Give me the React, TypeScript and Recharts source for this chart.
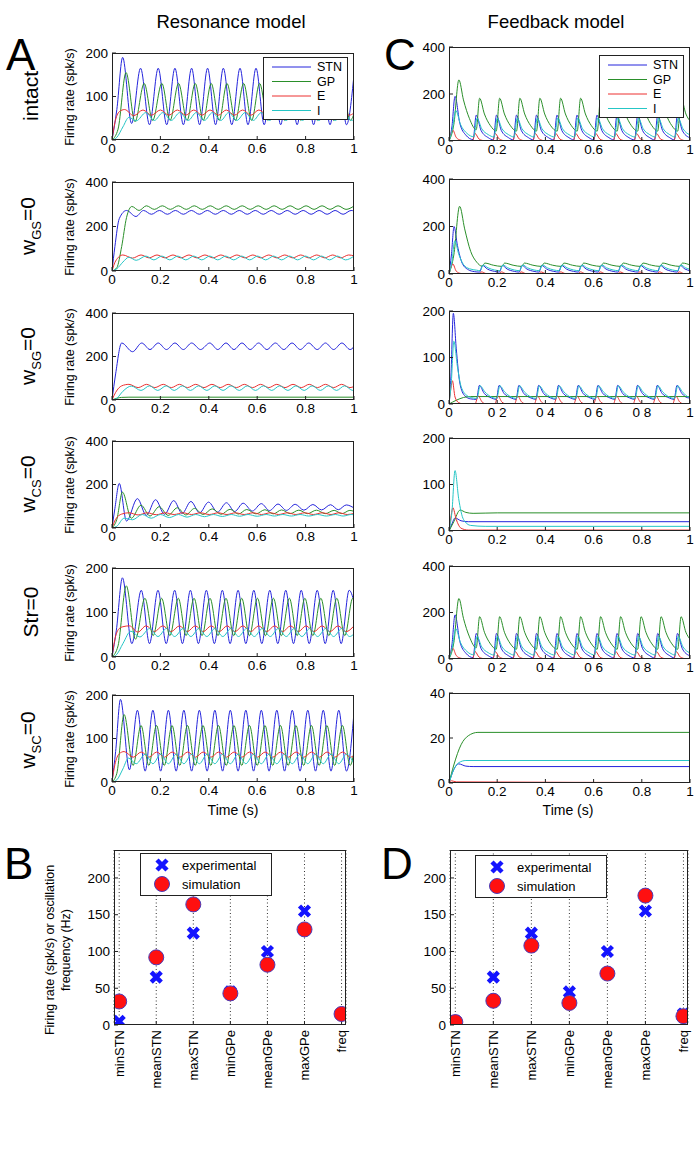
import { CartesianGrid, Line, LineChart, Scatter, ScatterChart, XAxis, YAxis } from "recharts";

type Pt = [number, number];

// ---- traces (A) ----
const A1_STN: Pt[] = [[0,0],[0.02,70],[0.044,190],[0.081,38],[0.118,165],[0.155,35],[0.191,165],[0.226,35],[0.26,165],[0.295,35],[0.329,165],[0.362,35],[0.395,165],[0.428,35],[0.46,165],[0.495,35],[0.529,165],[0.562,35],[0.595,165],[0.629,35],[0.663,165],[0.697,35],[0.731,165],[0.765,35],[0.799,165],[0.833,35],[0.867,165],[0.901,35],[0.935,165],[0.969,35],[1,150]];
const A1_GP: Pt[] = [[0,0],[0.025,25],[0.058,155],[0.095,42],[0.133,130],[0.168,45],[0.206,130],[0.24,45],[0.275,130],[0.31,45],[0.344,130],[0.377,45],[0.41,130],[0.443,45],[0.475,130],[0.51,45],[0.544,130],[0.577,45],[0.61,130],[0.644,45],[0.678,130],[0.712,45],[0.746,130],[0.78,45],[0.814,130],[0.848,45],[0.882,130],[0.916,45],[0.95,130],[0.984,45],[1,60]];
const A1_E: Pt[] = [[0,0],[0.012,40],[0.03,65],[0.052,70],[0.09,56],[0.128,69],[0.163,57],[0.2,69],[0.235,57],[0.27,69],[0.305,57],[0.338,69],[0.372,57],[0.405,69],[0.44,57],[0.472,69],[0.506,57],[0.54,69],[0.574,57],[0.607,69],[0.641,57],[0.675,69],[0.709,57],[0.743,69],[0.777,57],[0.81,69],[0.845,57],[0.878,69],[0.912,57],[0.946,69],[0.98,57],[1,62]];
const A1_I: Pt[] = [[0,0],[0.02,6],[0.045,30],[0.07,52],[0.1,44],[0.14,63],[0.175,45],[0.21,63],[0.245,45],[0.28,63],[0.315,45],[0.348,63],[0.382,45],[0.415,63],[0.45,45],[0.482,63],[0.516,45],[0.55,63],[0.584,45],[0.617,63],[0.651,45],[0.685,63],[0.719,45],[0.753,63],[0.787,45],[0.82,63],[0.855,45],[0.888,63],[0.922,45],[0.956,63],[0.99,45],[1,47]];

const A2_STN: Pt[] = [[0,0],[0.012,110],[0.03,235],[0.06,272],[0.099,245],[0.13,272],[0.163,255],[0.196,272],[0.229,255],[0.262,272],[0.295,255],[0.328,272],[0.361,255],[0.394,272],[0.427,255],[0.46,272],[0.493,255],[0.526,272],[0.559,255],[0.592,272],[0.625,255],[0.658,272],[0.691,255],[0.724,272],[0.757,255],[0.79,272],[0.823,255],[0.856,272],[0.889,255],[0.922,272],[0.955,255],[0.988,272],[1,270]];
const A2_GP: Pt[] = [[0,0],[0.02,15],[0.04,110],[0.06,240],[0.082,290],[0.112,272],[0.142,293],[0.175,277],[0.208,293],[0.241,277],[0.274,293],[0.307,277],[0.34,293],[0.373,277],[0.406,293],[0.439,277],[0.472,293],[0.505,277],[0.538,293],[0.571,277],[0.604,293],[0.637,277],[0.67,293],[0.703,277],[0.736,293],[0.769,277],[0.802,293],[0.835,277],[0.868,293],[0.901,277],[0.934,293],[0.967,277],[1,292]];
const A2_E: Pt[] = [[0,0],[0.015,45],[0.045,72],[0.085,58],[0.12,72],[0.153,59],[0.186,72],[0.219,59],[0.252,72],[0.285,59],[0.318,72],[0.351,59],[0.384,72],[0.417,59],[0.45,72],[0.483,59],[0.516,72],[0.549,59],[0.582,72],[0.615,59],[0.648,72],[0.681,59],[0.714,72],[0.747,59],[0.78,72],[0.813,59],[0.846,72],[0.879,59],[0.912,72],[0.945,59],[0.978,72],[1,68]];
const A2_I: Pt[] = [[0,0],[0.02,10],[0.045,40],[0.07,62],[0.1,48],[0.14,67],[0.173,50],[0.206,67],[0.239,50],[0.272,67],[0.305,50],[0.338,67],[0.371,50],[0.404,67],[0.437,50],[0.47,67],[0.503,50],[0.536,67],[0.569,50],[0.602,67],[0.635,50],[0.668,67],[0.701,50],[0.734,67],[0.767,50],[0.8,67],[0.833,50],[0.866,67],[0.899,50],[0.932,67],[0.965,50],[1,67]];

const A3_STN: Pt[] = [[0,0],[0.015,120],[0.04,262],[0.085,222],[0.123,262],[0.157,232],[0.191,262],[0.225,232],[0.26,262],[0.295,232],[0.329,262],[0.366,232],[0.404,262],[0.437,232],[0.471,262],[0.504,232],[0.537,262],[0.571,232],[0.606,262],[0.64,232],[0.675,262],[0.71,232],[0.744,262],[0.778,232],[0.813,262],[0.848,232],[0.882,262],[0.916,232],[0.95,262],[0.984,232],[1,245]];
const A3_GP: Pt[] = [[0,0],[0.02,8],[0.04,12],[0.07,13],[1,13]];
const A3_E: Pt[] = [[0,0],[0.015,35],[0.04,65],[0.07,72],[0.108,57],[0.143,72],[0.177,57],[0.212,72],[0.245,57],[0.279,72],[0.312,57],[0.346,72],[0.38,57],[0.413,72],[0.447,57],[0.48,72],[0.514,57],[0.547,72],[0.581,57],[0.614,72],[0.648,57],[0.681,72],[0.715,57],[0.748,72],[0.782,57],[0.815,72],[0.849,57],[0.882,72],[0.916,57],[0.949,72],[0.983,57],[1,62]];
const A3_I: Pt[] = [[0,0],[0.02,8],[0.045,40],[0.08,64],[0.12,44],[0.155,65],[0.189,44],[0.224,65],[0.257,44],[0.291,65],[0.324,44],[0.358,65],[0.392,44],[0.425,65],[0.459,44],[0.492,65],[0.526,44],[0.559,65],[0.593,44],[0.626,65],[0.66,44],[0.693,65],[0.727,44],[0.76,65],[0.794,44],[0.827,65],[0.861,44],[0.894,65],[0.928,44],[0.961,65],[0.995,44],[1,45]];

const A4_STN: Pt[] = [[0,0],[0.012,90],[0.03,205],[0.06,32],[0.105,135],[0.142,58],[0.18,130],[0.217,63],[0.255,126],[0.29,67],[0.326,122],[0.362,70],[0.399,119],[0.436,73],[0.473,116],[0.507,76],[0.542,114],[0.58,78],[0.617,112],[0.651,80],[0.686,110],[0.721,81],[0.757,109],[0.793,82],[0.83,108],[0.866,83],[0.903,107],[0.935,84],[0.968,106],[1,92]];
const A4_GP: Pt[] = [[0,0],[0.02,40],[0.043,165],[0.08,45],[0.12,105],[0.157,55],[0.195,98],[0.232,58],[0.27,93],[0.305,60],[0.341,90],[0.377,62],[0.414,88],[0.451,63],[0.488,86],[0.522,64],[0.557,85],[0.595,65],[0.632,84],[0.666,65],[0.701,83],[0.736,66],[0.772,82],[0.808,66],[0.845,82],[0.881,66],[0.918,81],[0.95,66],[0.983,81],[1,76]];
const A4_E: Pt[] = [[0,0],[0.015,40],[0.04,64],[0.07,70],[0.108,60],[0.145,70],[0.183,61],[0.22,70],[0.257,62],[0.293,70],[0.329,62],[0.365,70],[0.402,62],[0.439,70],[0.475,62],[0.51,70],[0.546,62],[0.583,70],[0.618,62],[0.654,70],[0.689,62],[0.724,70],[0.76,62],[0.796,70],[0.832,62],[0.869,70],[0.905,62],[0.938,70],[0.972,62],[1,67]];
const A4_I: Pt[] = [[0,0],[0.02,8],[0.05,45],[0.085,38],[0.125,62],[0.162,45],[0.2,62],[0.237,48],[0.275,62],[0.31,50],[0.346,62],[0.382,52],[0.419,62],[0.456,53],[0.493,62],[0.527,54],[0.562,62],[0.6,54],[0.637,62],[0.671,55],[0.706,62],[0.741,55],[0.777,62],[0.813,55],[0.85,62],[0.886,55],[0.923,62],[0.955,55],[0.988,62],[1,61]];

const A5_STN: Pt[] = [[0,0],[0.018,60],[0.043,178],[0.082,30],[0.121,150],[0.155,30],[0.19,150],[0.224,30],[0.259,150],[0.291,30],[0.324,150],[0.357,30],[0.39,150],[0.423,30],[0.456,150],[0.488,30],[0.521,150],[0.553,30],[0.586,150],[0.619,30],[0.652,150],[0.685,30],[0.718,150],[0.75,30],[0.782,150],[0.815,30],[0.848,150],[0.881,30],[0.914,150],[0.947,30],[0.98,150],[1,125]];
const A5_GP: Pt[] = [[0,0],[0.025,25],[0.059,160],[0.097,40],[0.136,132],[0.17,48],[0.205,132],[0.239,48],[0.274,132],[0.306,48],[0.339,132],[0.372,48],[0.405,132],[0.438,48],[0.471,132],[0.503,48],[0.536,132],[0.568,48],[0.601,132],[0.634,48],[0.667,132],[0.7,48],[0.733,132],[0.765,48],[0.797,132],[0.83,48],[0.863,132],[0.896,48],[0.929,132],[0.962,48],[0.995,132],[1,128]];
const A5_E: Pt[] = [[0,0],[0.012,40],[0.03,64],[0.045,68],[0.072,70],[0.107,56],[0.141,70],[0.175,57],[0.21,70],[0.244,57],[0.279,70],[0.311,57],[0.344,70],[0.377,57],[0.41,70],[0.443,57],[0.476,70],[0.508,57],[0.541,70],[0.573,57],[0.606,70],[0.639,57],[0.672,70],[0.705,57],[0.738,70],[0.77,57],[0.802,70],[0.835,57],[0.868,70],[0.901,57],[0.934,70],[0.967,57],[1,70]];
const A5_I: Pt[] = [[0,0],[0.02,6],[0.045,30],[0.078,58],[0.115,45],[0.156,64],[0.19,46],[0.225,64],[0.259,46],[0.294,64],[0.326,46],[0.359,64],[0.392,46],[0.425,64],[0.458,46],[0.491,64],[0.523,46],[0.556,64],[0.588,46],[0.621,64],[0.654,46],[0.687,64],[0.72,46],[0.753,64],[0.785,46],[0.817,64],[0.85,46],[0.883,64],[0.916,46],[0.949,64],[0.982,46],[1,52]];

const A6_STN: Pt[] = [[0,0],[0.015,70],[0.035,190],[0.072,28],[0.105,165],[0.137,25],[0.169,165],[0.201,25],[0.233,165],[0.265,25],[0.297,165],[0.329,25],[0.361,165],[0.393,25],[0.425,165],[0.457,25],[0.489,165],[0.521,25],[0.553,165],[0.585,25],[0.617,165],[0.649,25],[0.681,165],[0.713,25],[0.745,165],[0.777,25],[0.809,165],[0.841,25],[0.873,165],[0.905,25],[0.937,165],[0.969,25],[1,160]];
const A6_GP: Pt[] = [[0,0],[0.02,20],[0.05,155],[0.087,38],[0.12,130],[0.152,38],[0.184,130],[0.216,38],[0.248,130],[0.28,38],[0.312,130],[0.344,38],[0.376,130],[0.408,38],[0.44,130],[0.472,38],[0.504,130],[0.536,38],[0.568,130],[0.6,38],[0.632,130],[0.664,38],[0.696,130],[0.728,38],[0.76,130],[0.792,38],[0.824,130],[0.856,38],[0.888,130],[0.92,38],[0.952,130],[0.984,38],[1,70]];
const A6_E: Pt[] = [[0,0],[0.012,40],[0.03,65],[0.05,70],[0.088,57],[0.121,69],[0.153,57],[0.185,69],[0.217,57],[0.249,69],[0.281,57],[0.313,69],[0.345,57],[0.377,69],[0.409,57],[0.441,69],[0.473,57],[0.505,69],[0.537,57],[0.569,69],[0.601,57],[0.633,69],[0.665,57],[0.697,69],[0.729,57],[0.761,69],[0.793,57],[0.825,69],[0.857,57],[0.889,69],[0.921,57],[0.953,69],[0.985,57],[1,60]];
const A6_I: Pt[] = [[0,0],[0.02,5],[0.045,30],[0.068,55],[0.1,42],[0.137,64],[0.169,42],[0.201,64],[0.233,42],[0.265,64],[0.297,42],[0.329,64],[0.361,42],[0.393,64],[0.425,42],[0.457,64],[0.489,42],[0.521,64],[0.553,42],[0.585,64],[0.617,42],[0.649,64],[0.681,42],[0.713,64],[0.745,42],[0.777,64],[0.809,42],[0.841,64],[0.873,42],[0.905,64],[0.937,42],[0.969,64],[1,42]];

// ---- traces (C) ----
const C1_STN: Pt[] = [[0,0],[0.012,60],[0.025,190],[0.045,75],[0.07,25],[0.1,6],[0.113,110],[0.133,45],[0.163,14],[0.184,5],[0.197,110],[0.217,45],[0.247,14],[0.267,5],[0.28,110],[0.3,45],[0.33,14],[0.35,5],[0.363,110],[0.383,45],[0.413,14],[0.435,5],[0.448,110],[0.468,45],[0.498,14],[0.518,5],[0.531,110],[0.551,45],[0.581,14],[0.601,5],[0.614,110],[0.634,45],[0.664,14],[0.684,5],[0.697,110],[0.717,45],[0.747,14],[0.77,5],[0.783,110],[0.803,45],[0.833,14],[0.853,5],[0.866,110],[0.886,45],[0.916,14],[0.935,5],[0.948,110],[0.968,45],[0.998,14],[1,13]];
const C1_GP: Pt[] = [[0,0],[0.02,70],[0.041,260],[0.06,175],[0.085,95],[0.113,48],[0.127,182],[0.147,115],[0.172,65],[0.196,42],[0.21,182],[0.23,115],[0.255,65],[0.28,42],[0.294,182],[0.314,115],[0.339,65],[0.363,42],[0.377,182],[0.397,115],[0.422,65],[0.449,42],[0.463,182],[0.483,115],[0.508,65],[0.532,42],[0.546,182],[0.566,115],[0.591,65],[0.615,42],[0.629,182],[0.649,115],[0.674,65],[0.698,42],[0.712,182],[0.732,115],[0.757,65],[0.783,42],[0.797,182],[0.817,115],[0.842,65],[0.866,42],[0.88,182],[0.9,115],[0.925,65],[0.949,42],[0.963,182],[0.983,115],[1,85]];
const C1_E: Pt[] = [[0,0],[0.008,30],[0.016,46],[0.03,15],[0.05,3],[0.08,0],[0.097,0],[0.108,32],[0.125,8],[0.148,1],[0.181,0],[0.192,32],[0.209,8],[0.232,1],[0.264,0],[0.275,32],[0.292,8],[0.315,1],[0.347,0],[0.358,32],[0.375,8],[0.398,1],[0.432,0],[0.443,32],[0.46,8],[0.483,1],[0.515,0],[0.526,32],[0.543,8],[0.566,1],[0.598,0],[0.609,32],[0.626,8],[0.649,1],[0.681,0],[0.692,32],[0.709,8],[0.732,1],[0.767,0],[0.778,32],[0.795,8],[0.818,1],[0.85,0],[0.861,32],[0.878,8],[0.901,1],[0.932,0],[0.943,32],[0.96,8],[0.983,1],[1,0]];
const C1_I: Pt[] = [[0,0],[0.014,50],[0.028,130],[0.048,70],[0.075,32],[0.103,18],[0.116,97],[0.136,52],[0.163,27],[0.187,17],[0.2,97],[0.22,52],[0.247,27],[0.27,17],[0.283,97],[0.303,52],[0.33,27],[0.353,17],[0.366,97],[0.386,52],[0.413,27],[0.438,17],[0.451,97],[0.471,52],[0.498,27],[0.521,17],[0.534,97],[0.554,52],[0.581,27],[0.604,17],[0.617,97],[0.637,52],[0.664,27],[0.687,17],[0.7,97],[0.72,52],[0.747,27],[0.773,17],[0.786,97],[0.806,52],[0.833,27],[0.856,17],[0.869,97],[0.889,52],[0.916,27],[0.938,17],[0.951,97],[0.971,52],[0.998,27],[1,26]];

const C2_STN: Pt[] = [[0,0],[0.01,80],[0.021,200],[0.035,120],[0.055,45],[0.08,18],[0.105,10],[0.127,8],[0.139,36],[0.159,21],[0.189,11],[0.209,8],[0.221,36],[0.241,21],[0.271,11],[0.291,8],[0.303,36],[0.323,21],[0.353,11],[0.373,8],[0.385,36],[0.405,21],[0.435,11],[0.455,8],[0.467,36],[0.487,21],[0.517,11],[0.537,8],[0.549,36],[0.569,21],[0.599,11],[0.619,8],[0.631,36],[0.651,21],[0.681,11],[0.701,8],[0.713,36],[0.733,21],[0.763,11],[0.783,8],[0.795,36],[0.815,21],[0.845,11],[0.865,8],[0.877,36],[0.897,21],[0.927,11],[0.947,8],[0.959,36],[0.979,21],[1,14]];
const C2_GP: Pt[] = [[0,0],[0.02,80],[0.044,285],[0.065,190],[0.09,95],[0.115,50],[0.137,33],[0.149,46],[0.184,37],[0.219,32],[0.231,46],[0.266,37],[0.301,32],[0.313,46],[0.348,37],[0.383,32],[0.395,46],[0.43,37],[0.465,32],[0.477,46],[0.512,37],[0.547,32],[0.559,46],[0.594,37],[0.629,32],[0.641,46],[0.676,37],[0.711,32],[0.723,46],[0.758,37],[0.793,32],[0.805,46],[0.84,37],[0.875,32],[0.887,46],[0.922,37],[0.957,32],[0.969,46],[1,38]];
const C2_E: Pt[] = [[0,0],[0.008,28],[0.016,42],[0.03,12],[0.05,2],[0.08,0],[0.125,0],[0.135,9],[0.153,2],[0.174,0],[0.207,0],[0.217,9],[0.235,2],[0.256,0],[0.289,0],[0.299,9],[0.317,2],[0.338,0],[0.371,0],[0.381,9],[0.399,2],[0.42,0],[0.453,0],[0.463,9],[0.481,2],[0.502,0],[0.535,0],[0.545,9],[0.563,2],[0.584,0],[0.617,0],[0.627,9],[0.645,2],[0.666,0],[0.699,0],[0.709,9],[0.727,2],[0.748,0],[0.781,0],[0.791,9],[0.809,2],[0.83,0],[0.863,0],[0.873,9],[0.891,2],[0.912,0],[0.945,0],[0.955,9],[0.973,2],[0.994,0],[1,0]];
const C2_I: Pt[] = [[0,0],[0.012,50],[0.024,140],[0.04,85],[0.06,40],[0.085,22],[0.115,16],[0.129,14],[0.142,38],[0.162,26],[0.189,17],[0.211,14],[0.224,38],[0.244,26],[0.271,17],[0.293,14],[0.306,38],[0.326,26],[0.353,17],[0.375,14],[0.388,38],[0.408,26],[0.435,17],[0.457,14],[0.47,38],[0.49,26],[0.517,17],[0.539,14],[0.552,38],[0.572,26],[0.599,17],[0.621,14],[0.634,38],[0.654,26],[0.681,17],[0.703,14],[0.716,38],[0.736,26],[0.763,17],[0.785,14],[0.798,38],[0.818,26],[0.845,17],[0.867,14],[0.88,38],[0.9,26],[0.927,17],[0.949,14],[0.962,38],[0.982,26],[1,20]];

const C3_STN: Pt[] = [[0,0],[0.008,60],[0.018,195],[0.03,120],[0.045,45],[0.065,18],[0.09,11],[0.114,10],[0.126,40],[0.146,23],[0.176,13],[0.196,10],[0.208,40],[0.228,23],[0.258,13],[0.278,10],[0.29,40],[0.31,23],[0.34,13],[0.36,10],[0.372,40],[0.392,23],[0.422,13],[0.442,10],[0.454,40],[0.474,23],[0.504,13],[0.524,10],[0.536,40],[0.556,23],[0.586,13],[0.606,10],[0.618,40],[0.638,23],[0.668,13],[0.688,10],[0.7,40],[0.72,23],[0.75,13],[0.77,10],[0.782,40],[0.802,23],[0.832,13],[0.852,10],[0.864,40],[0.884,23],[0.914,13],[0.934,10],[0.946,40],[0.966,23],[0.996,13],[1,13]];
const C3_GP: Pt[] = [[0,0],[0.03,8],[0.06,14],[0.09,16],[1,16]];
const C3_E: Pt[] = [[0,0],[0.007,30],[0.014,50],[0.025,15],[0.04,3],[0.06,0],[0.108,0],[0.121,17],[0.138,4],[0.156,0],[0.19,0],[0.203,17],[0.22,4],[0.238,0],[0.272,0],[0.285,17],[0.302,4],[0.32,0],[0.354,0],[0.367,17],[0.384,4],[0.402,0],[0.436,0],[0.449,17],[0.466,4],[0.484,0],[0.518,0],[0.531,17],[0.548,4],[0.566,0],[0.6,0],[0.613,17],[0.63,4],[0.648,0],[0.682,0],[0.695,17],[0.712,4],[0.73,0],[0.764,0],[0.777,17],[0.794,4],[0.812,0],[0.846,0],[0.859,17],[0.876,4],[0.894,0],[0.928,0],[0.941,17],[0.958,4],[0.976,0],[1,0]];
const C3_I: Pt[] = [[0,0],[0.01,50],[0.02,135],[0.035,80],[0.05,38],[0.075,18],[0.1,13],[0.116,12],[0.129,39],[0.149,26],[0.176,15],[0.198,12],[0.211,39],[0.231,26],[0.258,15],[0.28,12],[0.293,39],[0.313,26],[0.34,15],[0.362,12],[0.375,39],[0.395,26],[0.422,15],[0.444,12],[0.457,39],[0.477,26],[0.504,15],[0.526,12],[0.539,39],[0.559,26],[0.586,15],[0.608,12],[0.621,39],[0.641,26],[0.668,15],[0.69,12],[0.703,39],[0.723,26],[0.75,15],[0.772,12],[0.785,39],[0.805,26],[0.832,15],[0.854,12],[0.867,39],[0.887,26],[0.914,15],[0.936,12],[0.949,39],[0.969,26],[0.996,15],[1,15]];

const C4_STN: Pt[] = [[0,0],[0.012,15],[0.025,28],[0.05,22],[0.08,20],[1,20]];
const C4_GP: Pt[] = [[0,0],[0.02,20],[0.046,45],[0.07,40],[0.1,38],[0.2,39],[1,39]];
const C4_E: Pt[] = [[0,0],[0.008,30],[0.016,50],[0.03,25],[0.05,6],[0.08,2],[1,2]];
const C4_I: Pt[] = [[0,0],[0.012,40],[0.025,130],[0.04,70],[0.06,25],[0.09,12],[0.15,10],[1,10]];

// Str=0 traces are indistinguishable from the intact feedback run
const C5_STN = C1_STN;
const C5_GP = C1_GP;
const C5_E = C1_E;
const C5_I = C1_I;

const C6_STN: Pt[] = [[0,0],[0.02,6],[0.04,8.5],[0.07,7.5],[0.1,7.3],[1,7.3]];
const C6_GP: Pt[] = [[0,0],[0.02,8],[0.05,17],[0.08,21],[0.12,22.5],[1,22.5]];
const C6_E: Pt[] = [[0,0],[0.01,1],[0.03,0.5],[1,0.2]];
const C6_I: Pt[] = [[0,0],[0.02,6],[0.04,9],[0.07,10],[1,10]];

// ---- summary statistics (B, D) ----
const STAT_LABELS = ["minSTN", "meanSTN", "maxSTN", "minGPe", "meanGPe", "maxGPe", "freq"];
const EXPERIMENTAL = [5, 65, 125, 45, 100, 155, 15];
const SIM_RESONANCE = [32, 92, 164, 43, 82, 130, 15];
const SIM_FEEDBACK = [4, 33, 108, 30, 70, 176, 12];

const TIME_TICKS = [0, 0.2, 0.4, 0.6, 0.8, 1];
const TIME_LABELS = ["0", "0.2", "0.4", "0.6", "0.8", "1"];
const TIME_LABELS_FADED = ["0", "0 2", "0 4", "0 6", "0 8", "1"];
const SERIES_NAMES = ["STN", "GP", "E", "I"];
const SERIES_COLORS = ["#2424dc", "#2a8f2a", "#ec3030", "#25c6c6"];

const FONT = "'Liberation Sans', Arial, Helvetica, sans-serif";

type PanelDef = {
  x0: number; x1: number; y0: number; y1: number;
  ymax: number; yticks: number[];
  traces: Pt[][];
  labels?: string[];
  legend?: { left: number; top: number };
  ylabel?: boolean;
};

const A_X: [number, number] = [112, 354];
const C_X: [number, number] = [449, 690];

const PANELS: PanelDef[] = [
  { x0: A_X[0], x1: A_X[1], y0: 53, y1: 140, ymax: 200, yticks: [0, 100, 200], traces: [A1_STN, A1_GP, A1_E, A1_I], legend: { left: 263, top: 57 }, ylabel: true },
  { x0: A_X[0], x1: A_X[1], y0: 182, y1: 271, ymax: 400, yticks: [0, 200, 400], traces: [A2_STN, A2_GP, A2_E, A2_I], ylabel: true },
  { x0: A_X[0], x1: A_X[1], y0: 313, y1: 400, ymax: 400, yticks: [0, 200, 400], traces: [A3_STN, A3_GP, A3_E, A3_I], ylabel: true },
  { x0: A_X[0], x1: A_X[1], y0: 441, y1: 528, ymax: 400, yticks: [0, 200, 400], traces: [A4_STN, A4_GP, A4_E, A4_I], ylabel: true },
  { x0: A_X[0], x1: A_X[1], y0: 568, y1: 657, ymax: 200, yticks: [0, 100, 200], traces: [A5_STN, A5_GP, A5_E, A5_I], ylabel: true },
  { x0: A_X[0], x1: A_X[1], y0: 695, y1: 782, ymax: 200, yticks: [0, 100, 200], traces: [A6_STN, A6_GP, A6_E, A6_I], ylabel: true },
  { x0: C_X[0], x1: C_X[1], y0: 47, y1: 141, ymax: 400, yticks: [0, 200, 400], traces: [C1_STN, C1_GP, C1_E, C1_I], legend: { left: 599, top: 55 } },
  { x0: C_X[0], x1: C_X[1], y0: 179, y1: 274, ymax: 400, yticks: [0, 200, 400], traces: [C2_STN, C2_GP, C2_E, C2_I] },
  { x0: C_X[0], x1: C_X[1], y0: 311, y1: 404, ymax: 200, yticks: [0, 100, 200], traces: [C3_STN, C3_GP, C3_E, C3_I], labels: TIME_LABELS_FADED },
  { x0: C_X[0], x1: C_X[1], y0: 438, y1: 531, ymax: 200, yticks: [0, 100, 200], traces: [C4_STN, C4_GP, C4_E, C4_I] },
  { x0: C_X[0], x1: C_X[1], y0: 566, y1: 659, ymax: 400, yticks: [0, 200, 400], traces: [C5_STN, C5_GP, C5_E, C5_I], labels: TIME_LABELS_FADED },
  { x0: C_X[0], x1: C_X[1], y0: 693, y1: 783, ymax: 40, yticks: [0, 20, 40], traces: [C6_STN, C6_GP, C6_E, C6_I] },
];

const ROW_LABELS: { y: number; main: string; sub?: string; tail?: string }[] = [
  { y: 96, main: "intact" },
  { y: 226, main: "w", sub: "GS", tail: "=0" },
  { y: 356, main: "w", sub: "SG", tail: "=0" },
  { y: 484, main: "w", sub: "CS", tail: "=0" },
  { y: 612, main: "Str=0" },
  { y: 740, main: "w", sub: "SC", tail: "=0" },
];

function toRows(points: Pt[]) {
  return points.map(([t, v]) => ({ t, v }));
}

function RotatedText({ cx, cy, size, children }: { cx: number; cy: number; size: number; children: any }) {
  return (
    <div
      style={{
        position: "absolute",
        left: cx,
        top: cy,
        transform: "translate(-50%, -50%) rotate(-90deg)",
        whiteSpace: "nowrap",
        fontSize: size,
        lineHeight: 1,
        color: "#000",
      }}
    >
      {children}
    </div>
  );
}

function TraceLegend({ left, top }: { left: number; top: number }) {
  return (
    <svg style={{ position: "absolute", left, top }} width={85} height={63}>
      <rect x={0.5} y={0.5} width={84} height={62} fill="#fff" stroke="#222" />
      {SERIES_NAMES.map((name, i) => (
        <g key={name}>
          <line x1={9} x2={48} y1={10 + i * 14.5} y2={10 + i * 14.5} stroke={SERIES_COLORS[i]} strokeWidth={1} />
          <text x={54} y={10 + i * 14.5} dy="0.35em" fontSize={12.5} fontFamily={FONT}>
            {name}
          </text>
        </g>
      ))}
    </svg>
  );
}

function TracePanel({ p }: { p: PanelDef }) {
  const padL = 44;
  const padR = 8;
  const padT = 6;
  const padB = 22;
  const w = p.x1 - p.x0;
  const h = p.y1 - p.y0;
  const labels = p.labels ?? TIME_LABELS;
  return (
    <>
      <div style={{ position: "absolute", left: p.x0 - padL, top: p.y0 - padT }}>
        <LineChart width={w + padL + padR} height={h + padT + padB} margin={{ top: padT, right: padR, bottom: 0, left: 0 }}>
          <XAxis
            type="number"
            dataKey="t"
            domain={[0, 1]}
            ticks={TIME_TICKS}
            interval={0}
            tickFormatter={(v: number) => labels[TIME_TICKS.indexOf(v)] ?? String(v)}
            height={padB}
            axisLine={false}
            tickSize={-4}
            tickMargin={7}
            tickLine={{ stroke: "#222" }}
            tick={{ fill: "#000", fontSize: 13.5, fontFamily: FONT }}
            allowDataOverflow
          />
          <YAxis
            type="number"
            domain={[0, p.ymax]}
            ticks={p.yticks}
            interval={0}
            width={padL}
            axisLine={false}
            tickSize={-4}
            tickMargin={8}
            tickLine={{ stroke: "#222" }}
            tick={{ fill: "#000", fontSize: 13.5, fontFamily: FONT }}
            allowDataOverflow
          />
          {p.traces.map((trace, i) => (
            <Line
              key={SERIES_NAMES[i]}
              data={toRows(trace)}
              dataKey="v"
              type="monotone"
              stroke={SERIES_COLORS[i]}
              strokeWidth={1}
              dot={false}
              isAnimationActive={false}
            />
          ))}
        </LineChart>
      </div>
      <div
        style={{
          position: "absolute",
          left: p.x0,
          top: p.y0,
          width: w,
          height: h,
          border: "1px solid #222",
          boxSizing: "border-box",
          pointerEvents: "none",
        }}
      />
      {p.legend ? <TraceLegend left={p.legend.left} top={p.legend.top} /> : null}
      {p.ylabel ? (
        <RotatedText cx={70} cy={(p.y0 + p.y1) / 2} size={12.5}>
          Firing rate (spk/s)
        </RotatedText>
      ) : null}
    </>
  );
}

function CrossMark(props: any) {
  const { cx, cy } = props;
  const s = 5;
  return (
    <path
      d={`M${cx - s},${cy - s}L${cx + s},${cy + s}M${cx - s},${cy + s}L${cx + s},${cy - s}`}
      stroke="#1414ff"
      strokeWidth={4.5}
      fill="none"
    />
  );
}

function RoundMark(props: any) {
  const { cx, cy } = props;
  return <circle cx={cx} cy={cy} r={7.5} fill="#ff1010" stroke="#4a3ab8" strokeWidth={1} />;
}

function StatTick(props: any) {
  const { x, y, payload } = props;
  const label = STAT_LABELS[Math.round(payload.value) - 1] ?? "";
  return (
    <text
      x={x}
      y={y}
      transform={`rotate(-90 ${x} ${y})`}
      textAnchor="end"
      dominantBaseline="central"
      fontSize={13}
      fontFamily={FONT}
      fill="#000"
    >
      {label}
    </text>
  );
}

function StatLegend({ left, top }: { left: number; top: number }) {
  return (
    <svg style={{ position: "absolute", left, top }} width={132} height={43}>
      <rect x={0.5} y={0.5} width={131} height={42} fill="#fff" stroke="#222" />
      <CrossMark cx={22} cy={12} />
      <RoundMark cx={22} cy={31} />
      <text x={42} y={12} dy="0.35em" fontSize={13} fontFamily={FONT}>experimental</text>
      <text x={42} y={31} dy="0.35em" fontSize={13} fontFamily={FONT}>simulation</text>
    </svg>
  );
}

function StatPanel({ x0, x1, y0, y1, ymax, sim, legendLeft, legendTop }: { x0: number; x1: number; y0: number; y1: number; ymax: number; sim: number[]; legendLeft: number; legendTop: number }) {
  const padL = 44;
  const padR = 8;
  const padT = 4;
  const padB = 70;
  const w = x1 - x0;
  const h = y1 - y0;
  const expRows = EXPERIMENTAL.map((v, i) => ({ x: i + 1, y: v }));
  const simRows = sim.map((v, i) => ({ x: i + 1, y: v }));
  return (
    <>
      <div style={{ position: "absolute", left: x0 - padL, top: y0 - padT }}>
        <ScatterChart width={w + padL + padR} height={h + padT + padB} margin={{ top: padT, right: padR, bottom: 0, left: 0 }}>
          <CartesianGrid horizontal={false} vertical strokeDasharray="1 2.5" stroke="#333" />
          <XAxis
            type="number"
            dataKey="x"
            domain={[0.86, 7.12]}
            ticks={[1, 2, 3, 4, 5, 6, 7]}
            interval={0}
            height={padB}
            axisLine={false}
            tickSize={-4}
            tickMargin={9}
            tickLine={{ stroke: "#222" }}
            tick={<StatTick />}
            allowDataOverflow
          />
          <YAxis
            type="number"
            dataKey="y"
            domain={[0, ymax]}
            ticks={[0, 50, 100, 150, 200]}
            interval={0}
            width={padL}
            axisLine={false}
            tickSize={-4}
            tickMargin={8}
            tickLine={{ stroke: "#222" }}
            tick={{ fill: "#000", fontSize: 13.5, fontFamily: FONT }}
            allowDataOverflow
          />
          <Scatter data={expRows} shape={<CrossMark />} isAnimationActive={false} />
          <Scatter data={simRows} shape={<RoundMark />} isAnimationActive={false} />
        </ScatterChart>
      </div>
      <div
        style={{
          position: "absolute",
          left: x0,
          top: y0,
          width: w,
          height: h,
          border: "1px solid #222",
          boxSizing: "border-box",
          pointerEvents: "none",
        }}
      />
      <StatLegend left={legendLeft} top={legendTop} />
    </>
  );
}

export default function App() {
  return (
    <div
      style={{
        position: "absolute",
        left: 0,
        top: 0,
        width: 700,
        height: 1150,
        background: "#fff",
        fontFamily: FONT,
        color: "#000",
        overflow: "hidden",
      }}
    >
      <div style={{ position: "absolute", left: 6, top: 33, fontSize: 44, lineHeight: 1 }}>A</div>
      <div style={{ position: "absolute", left: 384, top: 33, fontSize: 44, lineHeight: 1 }}>C</div>
      <div style={{ position: "absolute", left: 4, top: 842, fontSize: 44, lineHeight: 1 }}>B</div>
      <div style={{ position: "absolute", left: 381, top: 842, fontSize: 44, lineHeight: 1 }}>D</div>

      <div style={{ position: "absolute", left: 231, top: 22, transform: "translate(-50%, -50%)", fontSize: 18.5, whiteSpace: "nowrap" }}>
        Resonance model
      </div>
      <div style={{ position: "absolute", left: 556, top: 22, transform: "translate(-50%, -50%)", fontSize: 18.5, whiteSpace: "nowrap" }}>
        Feedback model
      </div>

      {ROW_LABELS.map((r) => (
        <RotatedText key={r.y} cx={30} cy={r.y} size={21}>
          {r.main}
          {r.sub ? <sub style={{ fontSize: 13 }}>{r.sub}</sub> : null}
          {r.tail ?? null}
        </RotatedText>
      ))}

      {PANELS.map((p, i) => (
        <TracePanel key={i} p={p} />
      ))}

      <div style={{ position: "absolute", left: 233, top: 810, transform: "translate(-50%, -50%)", fontSize: 14, whiteSpace: "nowrap" }}>
        Time (s)
      </div>
      <div style={{ position: "absolute", left: 568, top: 810, transform: "translate(-50%, -50%)", fontSize: 14, whiteSpace: "nowrap" }}>
        Time (s)
      </div>

      <RotatedText cx={50} cy={950} size={12.5}>
        Firing rate (spk/s) or oscillation
      </RotatedText>
      <RotatedText cx={66} cy={950} size={12.5}>
        frequency (Hz)
      </RotatedText>

      <StatPanel x0={114} x1={346} y0={850} y1={1025} ymax={238} sim={SIM_RESONANCE} legendLeft={140} legendTop={853} />
      <StatPanel x0={450} x1={688} y0={850} y1={1025} ymax={238} sim={SIM_FEEDBACK} legendLeft={475} legendTop={855} />
    </div>
  );
}
